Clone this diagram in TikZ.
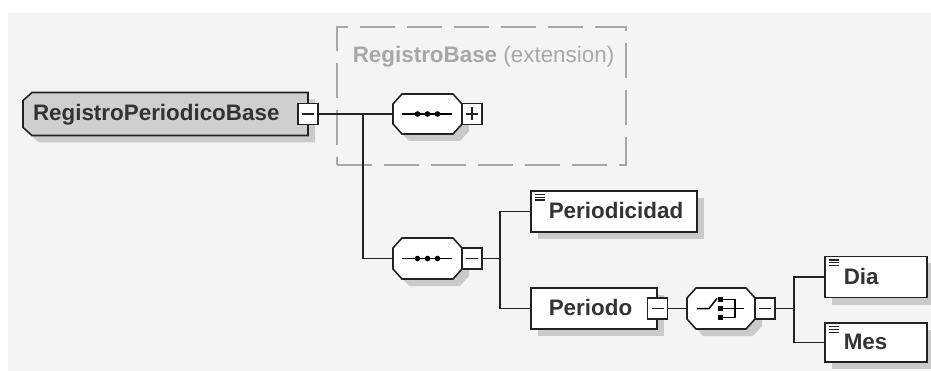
\documentclass[tikz,border=0pt]{standalone}
\usepackage{fontspec}
\setmainfont{Liberation Sans}
\usetikzlibrary{positioning, shadows, backgrounds}

\definecolor{pagegray}{HTML}{F4F4F4}
\definecolor{rootgray}{HTML}{CFCFCF}
\definecolor{shadegray}{HTML}{CACACA}
\definecolor{linegray}{HTML}{222222}
\definecolor{textgray}{HTML}{333333}
\definecolor{extgray}{HTML}{A8A8A8}

% octagon round a node (sequence / choice)
\newcommand{\octpath}[1]{([xshift=9pt]#1.north west) -- ([xshift=-9pt]#1.north east) -- ([yshift=-10pt]#1.north east) -- ([yshift=10pt]#1.south east) -- ([xshift=-9pt]#1.south east) -- ([xshift=9pt]#1.south west) -- ([yshift=10pt]#1.south west) -- ([yshift=-10pt]#1.north west) -- cycle}
% box with cut corners on the left (complex type)
\newcommand{\cutpath}[1]{([xshift=9pt]#1.north west) -- (#1.north east) -- (#1.south east) -- ([xshift=9pt]#1.south west) -- ([yshift=8pt]#1.south west) -- ([yshift=-8pt]#1.north west) -- cycle}

\begin{document}
\begin{tikzpicture}[x=1pt, y=-1pt, line width=1.6pt,
    every node/.style={font=\fontsize{22.4}{26}\selectfont\bfseries, text=textgray},
    frame/.style={inner sep=0pt, outer sep=0pt},
    outline/.style={draw=linegray, line width=1.6pt},
    elem/.style={draw=linegray, line width=1.6pt, fill=white, anchor=west, inner ysep=0pt, minimum height=41pt,
        align=left, text height=16pt, text depth=2pt,
        drop shadow={shadow xshift=7pt, shadow yshift=-7pt, fill=shadegray, opacity=1}},
    simple/.style={elem, path picture={
        \foreach \k in {0,1,2}
          \draw[line width=1.2pt] ([xshift=4, yshift={-3.5-2.8*\k}]path picture bounding box.north west) -- ++(10,0);}},
    btn/.style={draw=linegray, line width=1.5pt, fill=white, inner sep=0pt, outer sep=0pt, minimum width=20pt, minimum height=21pt},
    minusbtn/.style={btn, path picture={
        \draw[line width=1.5pt] ([xshift=4]path picture bounding box.west) -- ([xshift=-4]path picture bounding box.east);}},
    plusbtn/.style={btn, path picture={
        \draw[line width=1.5pt] ([xshift=4]path picture bounding box.west) -- ([xshift=-4]path picture bounding box.east)
          ([yshift=-4]path picture bounding box.north) -- ([yshift=4]path picture bounding box.south);}},
    wire/.style={draw=linegray, line width=1.6pt}]

    % === Page ===
    \useasboundingbox (0,0) rectangle (931,371);
    \begin{scope}[on background layer]
        \fill[white] (0,0) rectangle (931,371);
        \fill[pagegray] (8,13) rectangle (931,371);
    \end{scope}

    % === Root element ===
    \node[frame, inner xsep=10pt, text width=265pt, minimum height=43pt, align=left,
          text height=16pt, text depth=2pt] (root) at (165.5,114) {RegistroPeriodicoBase};
    \node[minusbtn] (rootbtn) at (root.east) {};

    % === Extension of RegistroBase ===
    \node[frame, draw=extgray, line width=1.5pt, dash pattern=on 35pt off 12pt,
          minimum width=289pt, minimum height=138pt] (ext) at (481.5,96) {};
    \node[anchor=west, inner sep=0pt, text=extgray, text height=16pt, text depth=0pt]
          (extlabel) at (352,55) {RegistroBase \mdseries(extension)};

    % === Sequences ===
    \node[frame, minimum width=69pt, minimum height=40pt] (seq1) at (427.5,114) {};
    \node[plusbtn, right=0pt of seq1] (seq1btn) {};
    \node[frame, minimum width=69pt, minimum height=41pt] (seq2) at (427.5,258.5) {};
    \node[minusbtn, right=0pt of seq2] (seq2btn) {};

    % === Children of the sequence ===
    \node[simple, inner xsep=18pt, text width=130pt] (periodicidad) at (530,211.5) {Periodicidad};
    \node[elem, inner xsep=18pt, text width=90pt] (periodo) at (530,308.5) {Periodo};
    \node[minusbtn] (periodobtn) at (periodo.east) {};

    % === Choice ===
    \node[frame, minimum width=68pt, minimum height=41pt] (choice) at (721,308.5) {};
    \node[minusbtn, right=0pt of choice] (choicebtn) {};
    \node[simple, inner xsep=19pt, text width=64pt] (dia) at (824,277) {Dia};
    \node[simple, inner xsep=19pt, text width=64pt, minimum height=39pt] (mes) at (824,342.5) {Mes};

    % === Shapes behind the nodes ===
    \begin{scope}[on background layer]
        \foreach \n in {seq1, seq2, choice}
            \fill[shadegray, transform canvas={shift={(7pt,-7pt)}}] \octpath{\n};
        \fill[shadegray, transform canvas={shift={(7pt,-7pt)}}] \cutpath{root};
        \foreach \n in {seq1, seq2, choice}
            \filldraw[fill=white, outline] \octpath{\n};
        \filldraw[fill=rootgray, outline] \cutpath{root};
    \end{scope}

    % sequence marks
    \foreach \n in {seq1, seq2} {
        \draw[line width=1.5pt] ([xshift=9]\n.west) -- ([xshift=-10]\n.east);
        \foreach \d in {-10,0,10}
            \fill ([xshift=\d]\n.center) circle (2.8pt);
    }
    % choice mark
    \draw[line width=1.5pt] ([shift={(-24,0)}]choice.center) -- ++(12,0) -- ++(8,-10);
    \foreach \dy in {-9,0,9}
        \fill ([shift={(-3.5,\dy-2.5)}]choice.center) rectangle ++(5,5);
    \draw[line width=1.5pt] ([shift={(1,-9)}]choice.center) -- ++(13,0) -- ++(0,18) -- ++(-13,0)
        ([shift={(1,0)}]choice.center) -- ++(22,0);

    % === Connectors ===
    \coordinate (j1) at (363,114);
    \coordinate (j2) at (500,258.5);
    \coordinate (j3) at (794,308.5);
    \draw[wire] (rootbtn.east) -- (seq1.west);
    \draw[wire] (j1) |- (seq2.west);
    \draw[wire] (seq2btn.east) -- (j2);
    \draw[wire] (periodicidad.west) -| (j2) |- (periodo.west);
    \draw[wire] (periodobtn.east) -- (choice.west);
    \draw[wire] (choicebtn.east) -- (j3);
    \draw[wire] (dia.west) -| (j3) |- (mes.west);
\end{tikzpicture}
\end{document}
